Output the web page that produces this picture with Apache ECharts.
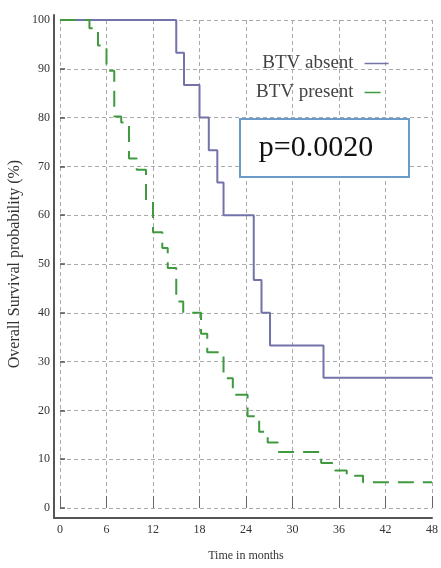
<!DOCTYPE html>
<html>
<head>
<meta charset="utf-8">
<script src="https://cdn.jsdelivr.net/npm/echarts@6/dist/echarts.min.js"></script>
<style>
html,body{margin:0;padding:0;background:#fff;}
#chart{width:441px;height:568px;}
</style>
</head>
<body>
<div id="chart"></div>
<script>
// Kaplan-Meier steps: [time in months, survival % after that time]
const absentTimes  = [0, 15, 16, 18, 19.2, 20.3, 21.1, 25, 26, 27.1, 34, 48];
const absentValues = [100, 93.3, 86.7, 80, 73.3, 66.7, 60, 46.7, 40, 33.3, 26.7, 26.7];

const presentTimes  = [0, 3.8, 4.9, 6.0, 7.0, 7.9, 8.9, 9.9, 11.1, 12.0, 13.2, 13.9, 15.0, 15.9, 18.2, 19.0, 21.1, 22.3, 24.2, 25.7, 26.8, 28.1, 33.7, 35.5, 37.0, 39.1, 48];
const presentValues = [100, 98.3, 94.8, 89.6, 80.2, 79.0, 71.6, 69.3, 63.1, 56.5, 53.3, 49.2, 42.3, 40.0, 35.7, 31.9, 26.6, 23.2, 18.8, 15.6, 13.4, 11.5, 9.2, 7.7, 6.6, 5.3, 5.3];

const xTicks = [0, 6, 12, 18, 24, 30, 36, 42, 48];
const yTicks = [0, 10, 20, 30, 40, 50, 60, 70, 80, 90, 100];

const seriesNames = ['BTV absent', 'BTV present'];
const pText = 'p=0.0020';
const xTitle = 'Time in months';
const yTitle = 'Overall Survival probability (%)';

const FONT = 'Liberation Serif';
const zip = (a, b) => a.map((t, i) => [t, b[i]]);

const chart = echarts.init(document.getElementById('chart'), null, {renderer: 'canvas'});
chart.setOption({
  animation: false,
  backgroundColor: '#ffffff',
  grid: [
    {left: 54, right: 9, top: 15, bottom: 50, outerBoundsMode: 'none', containLabel: false},   // frame (axis lines)
    {left: 60, right: 9, top: 20, bottom: 60, outerBoundsMode: 'none', containLabel: false}    // data area
  ],
  xAxis: [
    {gridIndex: 0, type: 'value', min: 0, max: 1,
     axisLine: {show: true, onZero: false, lineStyle: {color: '#555', width: 2}},
     axisTick: {show: false}, axisLabel: {show: false}, splitLine: {show: false}},
    {gridIndex: 1, type: 'value', min: xTicks[0], max: xTicks[xTicks.length - 1], interval: 6,
     offset: 10,
     name: xTitle, nameLocation: 'middle', nameGap: 32,
     nameTextStyle: {fontFamily: FONT, fontSize: 12, color: '#333'},
     axisLine: {show: false},
     axisTick: {show: true, inside: true, length: 12, lineStyle: {color: '#666', width: 1}},
     axisLabel: {fontFamily: FONT, fontSize: 12, color: '#333', margin: 6},
     splitLine: {show: true, lineStyle: {color: '#aaa', type: [4, 3], width: 1}}}
  ],
  yAxis: [
    {gridIndex: 0, type: 'value', min: 0, max: 1,
     axisLine: {show: true, onZero: false, lineStyle: {color: '#555', width: 2}},
     axisTick: {show: false}, axisLabel: {show: false}, splitLine: {show: false}},
    {gridIndex: 1, type: 'value', min: yTicks[0], max: yTicks[yTicks.length - 1], interval: 10,
     offset: 6,
     name: yTitle, nameLocation: 'middle', nameGap: 31, nameRotate: 90, nameMoveOverlap: false,
     nameTextStyle: {fontFamily: FONT, fontSize: 16, color: '#333'},
     axisLine: {show: false},
     axisTick: {show: true, inside: true, length: 5, lineStyle: {color: '#555', width: 1.5}},
     axisLabel: {fontFamily: FONT, fontSize: 12, color: '#333', margin: 4},
     splitLine: {show: true, lineStyle: {color: '#aaa', type: [4, 3], width: 1}}}
  ],
  legend: {
    left: 251, top: 49, orient: 'vertical', align: 'right',
    itemWidth: 24, itemHeight: 14, itemGap: 10,
    itemStyle: {opacity: 0},
    lineStyle: {width: 1.5},
    textStyle: {fontFamily: FONT, fontSize: 19, color: '#444', padding: [0, 6, 0, 0]},
    data: seriesNames
  },
  series: [
    {name: seriesNames[0], type: 'line', xAxisIndex: 1, yAxisIndex: 1, step: 'end',
     symbol: 'none', data: zip(absentTimes, absentValues),
     lineStyle: {color: '#7373aa', width: 2}, itemStyle: {color: '#7373aa'}, z: 3},
    {name: seriesNames[1], type: 'line', xAxisIndex: 1, yAxisIndex: 1, step: 'end',
     symbol: 'none', data: zip(presentTimes, presentValues),
     lineStyle: {color: '#3f9a3f', width: 2, type: [16, 9]}, itemStyle: {color: '#3f9a3f'}, z: 4}
  ],
  graphic: [
    {type: 'rect', left: 239, top: 118, z: 100,
     shape: {width: 169, height: 58},
     style: {fill: '#fff', stroke: '#6a9cc9', lineWidth: 2}},
    {type: 'text', x: 316, y: 148, z: 101,
     style: {text: pText, font: '30px "Liberation Serif"', fill: '#111', align: 'center', verticalAlign: 'middle'}}
  ]
});
</script>
</body>
</html>
